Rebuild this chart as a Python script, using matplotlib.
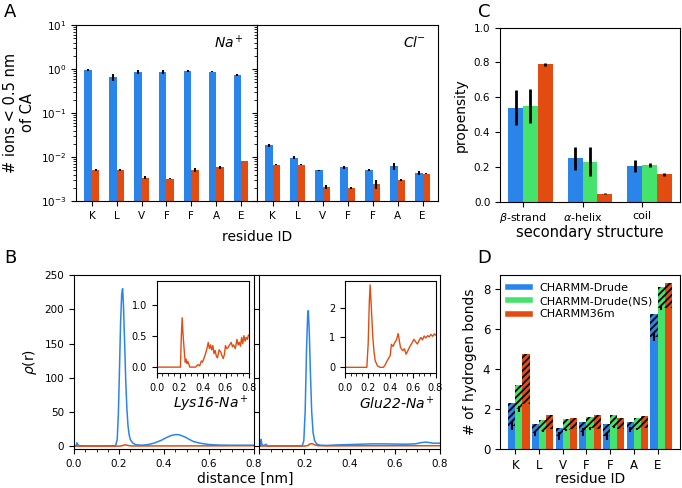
import numpy as np
import matplotlib
matplotlib.use('Agg')
import matplotlib.pyplot as plt
from matplotlib.lines import Line2D
from matplotlib.ticker import MultipleLocator

BLEU = '#2a85eb'
VERT = '#45e36b'
ORANGE = '#e34c10'

residus = ['K', 'L', 'V', 'F', 'F', 'A', 'E']

# --- A : ions < 0.5 nm du CA
na_drude = [0.95, 0.65, 0.87, 0.87, 0.90, 0.86, 0.73]
na_drude_err = [0.05, 0.12, 0.08, 0.09, 0.05, 0.02, 0.03]
na_c36 = [0.0050, 0.0050, 0.0034, 0.0032, 0.0050, 0.0058, 0.0082]
na_c36_err = [0.0002, 0.0002, 0.0003, 0.0001, 0.0005, 0.0004, 0.0001]
cl_drude = [0.0187, 0.0096, 0.0050, 0.0058, 0.0050, 0.0062, 0.0044]
cl_drude_err = [0.0015, 0.0008, 0.0001, 0.0005, 0.0003, 0.0012, 0.0005]
cl_c36 = [0.0067, 0.0067, 0.0021, 0.00197, 0.00243, 0.0030, 0.0042]
cl_c36_err = [0.0002, 0.0001, 0.0002, 0.0001, 0.0006, 0.0002, 0.0001]

# --- C : structure secondaire
structures = [r'$\beta$-strand', r'$\alpha$-helix', 'coil']
ss_drude = [0.54, 0.25, 0.205]
ss_drude_err = [0.10, 0.065, 0.035]
ss_ns = [0.55, 0.23, 0.21]
ss_ns_err = [0.10, 0.085, 0.012]
ss_c36 = [0.79, 0.045, 0.157]
ss_c36_err = [0.008, 0.003, 0.008]

# --- B : rho(r)
lys_r = [0.000, 0.006, 0.010, 0.013, 0.016, 0.020, 0.030, 0.050, 0.100, 0.150,
         0.185, 0.192, 0.197, 0.202, 0.207, 0.212, 0.216, 0.220, 0.225, 0.230,
         0.235, 0.240, 0.245, 0.250, 0.260, 0.270, 0.280, 0.300, 0.330, 0.360,
         0.390, 0.410, 0.430, 0.450, 0.460, 0.470, 0.490, 0.510, 0.530, 0.560,
         0.600, 0.650, 0.700, 0.750, 0.800]
lys_drude = [0.5, 0.5, 1.0, 5.0, 3.0, 1.0, 0.8, 0.5, 0.5, 0.5,
             0.8, 10, 45, 110, 180, 222, 230, 205, 150, 95,
             55, 30, 17, 10, 5, 3, 2, 1.5, 2.5, 5,
             9, 12.5, 15.5, 17, 17, 16.5, 14, 10.5, 7, 4.5,
             2.5, 1.7, 1.5, 1.5, 1.5]
lys_o_r = [0.0, 0.20, 0.215, 0.225, 0.235, 0.245, 0.26, 0.40, 0.60, 0.80]
lys_c36 = [0.2, 0.2, 0.8, 2.0, 1.6, 0.8, 0.4, 0.5, 0.6, 0.8]

glu_r = [0.000, 0.005, 0.008, 0.012, 0.020, 0.030, 0.035, 0.045, 0.100, 0.190,
         0.197, 0.203, 0.209, 0.214, 0.217, 0.221, 0.226, 0.232, 0.238, 0.245,
         0.255, 0.270, 0.300, 0.350, 0.400, 0.450, 0.500, 0.550, 0.600, 0.650,
         0.690, 0.720, 0.740, 0.770, 0.800]
glu_drude = [0.5, 0.5, 10, 2, 1, 3, 0.8, 0.5, 0.5, 0.6,
             8, 50, 140, 190, 198, 170, 110, 50, 20, 8,
             3, 1.5, 1.2, 2, 2.5, 3, 3.5, 3.5, 3.2, 3,
             3.5, 5.5, 6, 4.5, 4.5]
glu_o_r = [0.0, 0.20, 0.215, 0.225, 0.235, 0.245, 0.26, 0.30, 0.50, 0.80]
glu_c36 = [0.3, 0.3, 1.0, 3.5, 3.8, 2.0, 0.8, 0.6, 0.7, 0.8]

# encarts (CHARMM36m seul)
lys_in_r = [0.0, 0.208, 0.215, 0.223, 0.230, 0.243, 0.250, 0.258, 0.265, 0.273,
            0.290, 0.340, 0.360, 0.375, 0.390, 0.400, 0.420, 0.435, 0.450, 0.460,
            0.470, 0.480, 0.490, 0.500, 0.510, 0.520, 0.530, 0.545, 0.560, 0.570,
            0.580, 0.590, 0.600, 0.610, 0.620, 0.635, 0.650, 0.660, 0.670, 0.685,
            0.700, 0.710, 0.720, 0.730, 0.740, 0.750, 0.760, 0.770, 0.780, 0.790,
            0.800]
lys_in = [0.0, 0.0, 0.45, 0.80, 0.55, 0.22, 0.08, 0.13, 0.06, 0.09,
          0.0, 0.0, 0.04, 0.02, 0.10, 0.08, 0.18, 0.27, 0.40, 0.30,
          0.36, 0.28, 0.35, 0.22, 0.27, 0.18, 0.15, 0.28, 0.24, 0.18,
          0.14, 0.20, 0.35, 0.30, 0.31, 0.36, 0.40, 0.33, 0.36, 0.30,
          0.45, 0.36, 0.40, 0.34, 0.48, 0.38, 0.51, 0.42, 0.48, 0.45,
          0.52]
glu_in_r = [0.0, 0.193, 0.205, 0.215, 0.222, 0.230, 0.246, 0.257, 0.267, 0.287,
            0.310, 0.340, 0.355, 0.370, 0.385, 0.400, 0.410, 0.425, 0.440, 0.455,
            0.470, 0.480, 0.490, 0.510, 0.525, 0.540, 0.555, 0.570, 0.590, 0.610,
            0.625, 0.640, 0.655, 0.670, 0.685, 0.700, 0.715, 0.730, 0.745, 0.760,
            0.775, 0.790, 0.800]
glu_in = [0.0, 0.0, 0.8, 2.2, 2.76, 2.2, 1.0, 0.5, 0.22, 0.05,
          0.0, 0.0, 0.08, 0.20, 0.30, 0.40, 0.77, 0.70, 0.83, 0.92,
          1.13, 0.90, 0.67, 0.56, 0.62, 0.44, 0.55, 0.67, 0.80, 0.94,
          0.85, 0.78, 0.90, 1.00, 0.92, 1.05, 0.98, 1.06, 1.02, 1.10,
          1.04, 1.12, 1.08]

# --- D : liaisons hydrogene (partie pleine / total)
hb_drude_bas = [1.15, 0.78, 0.65, 0.87, 0.63, 0.97, 5.6]
hb_drude_tot = [2.28, 1.25, 1.03, 1.36, 1.25, 1.33, 6.74]
hb_drude_err = [0.2, 0.12, 0.2, 0.2, 0.2, 0.12, 0.2]
hb_ns_bas = [1.98, 0.90, 0.97, 1.03, 1.08, 1.00, 7.04]
hb_ns_tot = [3.19, 1.45, 1.50, 1.60, 1.68, 1.55, 8.12]
hb_ns_err = [0.15, 0.05, 0.05, 0.08, 0.05, 0.05, 0.1]
hb_c36_bas = [2.25, 1.00, 1.00, 1.00, 1.00, 1.03, 7.04]
hb_c36_tot = [4.74, 1.70, 1.54, 1.71, 1.55, 1.66, 8.28]

plt.rcParams['hatch.linewidth'] = 1.3
plt.rcParams['xtick.labelsize'] = 7.5
plt.rcParams['ytick.labelsize'] = 7.5

W, H = 682, 488


def boite(x0, x1, y0, y1):
    return [x0 / W, 1 - y1 / H, (x1 - x0) / W, (y1 - y0) / H]


fig = plt.figure(figsize=(6.82, 4.88), dpi=100)

# ---------------- A
x = np.arange(len(residus))
w = 0.3
axNa = fig.add_axes(boite(76, 256.7, 25, 201))
axCl = fig.add_axes(boite(256.7, 438.3, 25, 201), sharey=axNa)
for ax, bl, ble, orr, ore, nom in [
        (axNa, na_drude, na_drude_err, na_c36, na_c36_err, 'Na$^+$'),
        (axCl, cl_drude, cl_drude_err, cl_c36, cl_c36_err, 'Cl$^{-}$')]:
    ax.set_yscale('log')
    ax.bar(x - w, bl, w, align='edge', color=BLEU)
    ax.bar(x, orr, w, align='edge', color=ORANGE)
    ax.errorbar(x - w / 2, bl, yerr=ble, fmt='none', ecolor='k', lw=1.5)
    ax.errorbar(x + w / 2, orr, yerr=ore, fmt='none', ecolor='k', lw=1.5)
    ax.set_xticks(x)
    ax.set_xticklabels(residus)
    ax.set_xlim(-0.64, 6.63)
    ax.text(0.93, 0.9, nom, transform=ax.transAxes, ha='right', va='center',
            fontsize=10, style='italic')
axNa.set_ylim(1e-3, 1e1)
axNa.set_ylabel('# ions < 0.5 nm\nof CA', fontsize=10.5)
plt.setp(axCl.get_yticklabels(), visible=False)
fig.text(257 / W, 1 - 237 / H, 'residue ID', ha='center', va='center', fontsize=10)

# ---------------- C
xs = np.arange(len(structures))
wc = 0.25
axC = fig.add_axes(boite(500, 680, 27.7, 201.7))
for k, (v, e, c) in enumerate([(ss_drude, ss_drude_err, BLEU),
                               (ss_ns, ss_ns_err, VERT),
                               (ss_c36, ss_c36_err, ORANGE)]):
    axC.bar(xs + (k - 1) * wc, v, wc, align='edge', color=c)
    axC.errorbar(xs + (k - 0.5) * wc, v, yerr=e, fmt='none', ecolor='k', lw=2)
axC.set_xticks(xs)
axC.set_xticklabels(structures, fontsize=8)
axC.set_ylim(0, 1.0)
axC.set_ylabel('propensity', fontsize=10)
axC.set_xlabel('secondary structure', fontsize=10.5, labelpad=0)

# ---------------- B
axL = fig.add_axes(boite(74, 254, 275, 449))
axG = fig.add_axes(boite(259.3, 440, 275, 449), sharey=axL)
for ax, rb, yb, ro, yo, nom in [
        (axL, lys_r, lys_drude, lys_o_r, lys_c36, 'Lys16-Na$^+$'),
        (axG, glu_r, glu_drude, glu_o_r, glu_c36, 'Glu22-Na$^+$')]:
    ax.plot(rb, yb, color=BLEU, lw=1.1)
    ax.plot(ro, yo, color=ORANGE, lw=1.1)
    ax.set_xlim(0, 0.8)
    ax.xaxis.set_major_locator(MultipleLocator(0.2))
    ax.xaxis.set_minor_locator(MultipleLocator(0.05))
    ax.text(0.97, 0.26, nom, transform=ax.transAxes, ha='right', va='center',
            fontsize=10, style='italic')
axL.set_ylim(-4, 250)
axL.set_yticks([0, 50, 100, 150, 200, 250])
axL.set_ylabel(r'$\rho$(r)', fontsize=10)
plt.setp(axG.get_yticklabels(), visible=False)
axG.set_xticks([0.0, 0.2, 0.4, 0.6, 0.8])
axG.set_xticklabels(['', '0.2', '0.4', '0.6', '0.8'])
fig.text(245 / W, 1 - 479 / H, 'distance [nm]', ha='center', va='center', fontsize=10)

insL = fig.add_axes(boite(156.5, 248.5, 280.7, 373.3))
insG = fig.add_axes(boite(345, 435.5, 280.7, 373.3))
for ax, r, y in [(insL, lys_in_r, lys_in), (insG, glu_in_r, glu_in)]:
    ax.plot(r, y, color=ORANGE, lw=1)
    ax.set_xlim(0, 0.8)
    ax.xaxis.set_major_locator(MultipleLocator(0.2))
    ax.xaxis.set_minor_locator(MultipleLocator(0.05))
    ax.tick_params(labelsize=7)
insL.set_ylim(-0.1, 1.4)
insL.set_yticks([0.0, 0.5, 1.0])
insG.set_ylim(-0.2, 2.9)
insG.set_yticks([0, 1, 2])

# ---------------- D
wd = 0.3
axD = fig.add_axes(boite(500, 680, 275, 449))
for k, (bas, tot, c) in enumerate([(hb_drude_bas, hb_drude_tot, BLEU),
                                   (hb_ns_bas, hb_ns_tot, VERT),
                                   (hb_c36_bas, hb_c36_tot, ORANGE)]):
    pos = x + (k - 1) * wd
    axD.bar(pos, bas, wd, align='edge', color=c)
    axD.bar(pos, np.array(tot) - np.array(bas), wd, bottom=bas, align='edge',
            color=c, edgecolor='k', lw=0, hatch='/////')
for k, (bas, e) in enumerate([(hb_drude_bas, hb_drude_err),
                              (hb_ns_bas, hb_ns_err)]):
    axD.errorbar(x + (k - 0.5) * wd, bas, yerr=e, fmt='none', ecolor='k', lw=1.5)
axD.set_xticks(x)
axD.set_xticklabels(residus, fontsize=8.5)
axD.tick_params(axis='y', labelsize=8.5)
axD.set_ylim(0, 8.7)
axD.set_yticks([0, 2, 4, 6, 8])
axD.set_ylabel('# of hydrogen bonds', fontsize=10)
axD.set_xlabel('residue ID', fontsize=10, labelpad=0)
poignees = [Line2D([0], [0], color=c, lw=4) for c in (BLEU, VERT, ORANGE)]
axD.legend(poignees, ['CHARMM-Drude', 'CHARMM-Drude(NS)', 'CHARMM36m'],
           loc='upper left', frameon=False, fontsize=8, handlelength=2.0,
           labelspacing=0.3, borderaxespad=0.3)

# lettres des panneaux
for lettre, px, py in [('A', 10, 12), ('C', 484, 12), ('B', 10, 258), ('D', 484, 258)]:
    fig.text(px / W, 1 - py / H, lettre, ha='center', va='center', fontsize=13)

fig.savefig('out.png', dpi=100)
